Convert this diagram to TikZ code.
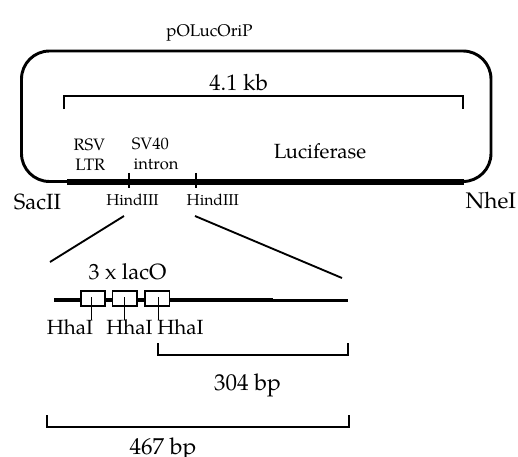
\documentclass[tikz,border=0pt]{standalone}
\usepackage{fontspec}
\setmainfont{TeX Gyre Pagella}
\begin{document}
\begin{tikzpicture}[x=0.75pt,y=-0.75pt,
  txt/.style={inner sep=0pt, anchor=base, font=\fontsize{#1}{#1}\selectfont},
  txtl/.style={inner sep=0pt, anchor=base west, font=\fontsize{#1}{#1}\selectfont},
  outline/.style={line width=2.2pt, rounded corners=21pt},
  bar/.style={line width=4.5pt},
  site/.style={line width=1pt},
  bracket/.style={line width=1.1pt},
  zoomline/.style={line width=1.4pt},
  dna/.style={line width=3pt},
  dnathin/.style={line width=2.4pt},
  lacbox/.style={draw, line width=1.2pt, fill=white, minimum width=18.2pt, minimum height=11.3pt, inner sep=0pt}
]
\useasboundingbox (0,0) rectangle (518,457);

% plasmid title and outline
\node[txt=12.7pt] (title) at (209.5,36) {pOLucOriP};
\draw[outline] (21.5,51) rectangle (491,181.5);

% 4.1 kb span
\coordinate (kbL) at (64,96);
\coordinate (kbR) at (463,96);
\draw[bracket] ([yshift=-9.75pt]kbL) -- (kbL) -- (kbR) -- ([yshift=-9.75pt]kbR);
\node[txt=16.8pt] (kb) at (238.7,90.7) {4.1 kb};

% insert region on the plasmid
\coordinate (barL) at (67,181.5);
\coordinate (barR) at (464,181.5);
\draw[bar] (barL) -- (barR);
\coordinate (hA) at (129,181.5);
\coordinate (hB) at (196,181.5);
\draw[site] ([yshift=6.5pt]hA) -- ([yshift=-4.5pt]hA);
\draw[site] ([yshift=6.5pt]hB) -- ([yshift=-4.5pt]hB);

\node[txtl=12.4pt] (rsv) at (73.3,150) {RSV};
\node[txtl=12.4pt] (ltr) at (75,170) {LTR};
\node[txtl=12.4pt] (sv40) at (131.7,149) {SV40};
\node[txtl=12.4pt] (intron) at (133.3,169) {intron};
\node[txt=15.4pt] (luc) at (320,158) {Luciferase};

\node[txt=16.5pt] (sacII) at (37.5,209) {SacII};
\node[txt=11.8pt] (hind1) at (132.5,205.7) {HindIII};
\node[txt=11.8pt] (hind2) at (212.8,205.7) {HindIII};
\node[txt=16.9pt] (nheI) at (490.8,208) {NheI};

% expansion of the HindIII fragment
\coordinate (zA1) at (124,216);
\coordinate (zA2) at (50,262);
\coordinate (zB1) at (195,216);
\coordinate (zB2) at (342,278);
\draw[zoomline] (zA1) -- (zA2);
\draw[zoomline] (zB1) -- (zB2);

\node[txt=16.5pt] (lacO) at (127.5,279) {3 x lacO};

\coordinate (dnaL) at (54,300.3);
\coordinate (dnaM) at (273,300.3);
\coordinate (dnaM2) at (273,300.7);
\coordinate (dnaR) at (348,300.7);
\draw[dna] (dnaL) -- (dnaM);
\draw[dnathin] (dnaM2) -- (dnaR);
\node[lacbox] (box1) at (93,298.3) {};
\node[lacbox] (box2) at (124.7,298.3) {};
\node[lacbox] (box3) at (157.2,298.3) {};

\draw[site] (91.7,297) -- (91.7,320);
\draw[site] (124.3,297) -- (124.3,320);
\draw[site] (158.5,297) -- (158.5,320);
\node[txt=15.4pt] (hha1) at (70,334) {HhaI};
\node[txt=15.4pt] (hha2) at (129.5,334) {HhaI};
\node[txt=15.4pt] (hha3) at (180.5,334) {HhaI};

% fragment sizes
\coordinate (sL) at (158,355);
\coordinate (sR) at (348,355);
\draw[bracket] ([yshift=9pt]sL) -- (sL) -- (sR) -- ([yshift=9pt]sR);
\node[txt=17.25pt] (bp304) at (247.5,390) {304 bp};

\coordinate (lL) at (47,427);
\coordinate (lR) at (349,427);
\draw[bracket] ([yshift=9pt]lL) -- (lL) -- (lR) -- ([yshift=9pt]lR);
\node[txt=17.25pt] (bp467) at (163,454.7) {467 bp};
\end{tikzpicture}
\end{document}
